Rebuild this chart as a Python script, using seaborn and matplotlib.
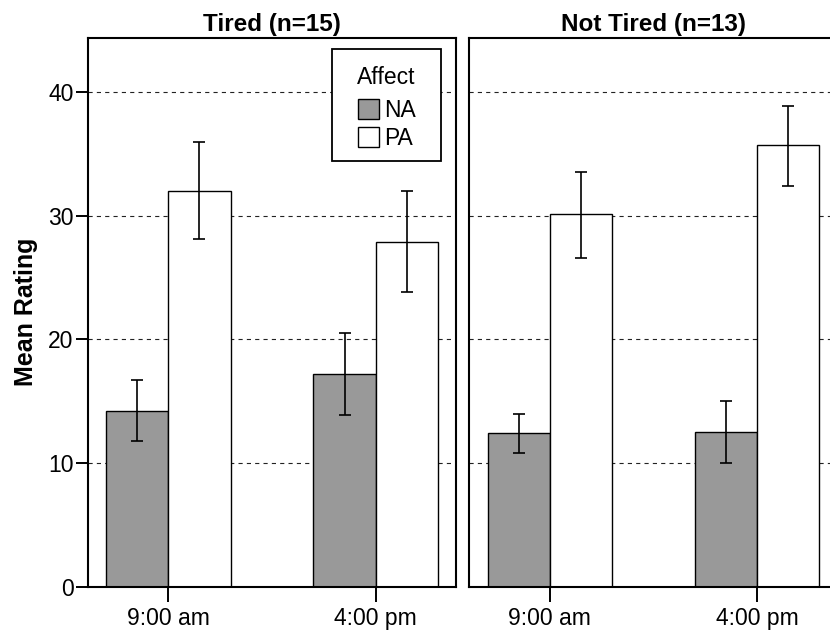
import numpy as np
import pandas as pd
import matplotlib
matplotlib.use("Agg")
import matplotlib.pyplot as plt
from matplotlib.container import BarContainer
from matplotlib.patches import Rectangle
import seaborn as sns

# dados
times = ["9:00 am", "4:00 pm"]
affects = ["NA", "PA"]
panels = ["Tired (n=15)", "Not Tired (n=13)"]

# medias (NA 9h, NA 16h, PA 9h, PA 16h)
tired_mean = [14.2, 17.2, 32.0, 27.9]
tired_low = [11.8, 13.9, 28.1, 23.8]
tired_high = [16.7, 20.5, 36.0, 32.0]

nottired_mean = [12.4, 12.5, 30.1, 35.7]
nottired_low = [10.8, 10.0, 26.6, 32.4]
nottired_high = [14.0, 15.0, 33.5, 38.9]

cores = {"NA": "#999999", "PA": "white"}

sns.set_theme(style="white")
plt.rcParams["font.family"] = ["Liberation Sans", "DejaVu Sans"]
plt.rcParams["lines.scale_dashes"] = False
plt.rcParams["text.color"] = "black"
plt.rcParams["axes.labelcolor"] = "black"
plt.rcParams["axes.titlecolor"] = "black"

fig = plt.figure(figsize=(8.3, 6.32), dpi=100)
ax1 = fig.add_axes([0.1057, 0.0717, 0.4441, 0.8687])
ax2 = fig.add_axes([0.5654, 0.0717, 0.4441, 0.8687], sharey=ax1)

dados = [
    (ax1, tired_mean, tired_low, tired_high),
    (ax2, nottired_mean, nottired_low, nottired_high),
]

for i, (ax, media, baixo, alto) in enumerate(dados):
    df = pd.DataFrame({
        "Time": [t for a in affects for t in times],
        "Affect": [a for a in affects for t in times],
        "Rating": media,
    })
    sns.barplot(data=df, x="Time", y="Rating", hue="Affect", order=times,
                hue_order=affects, palette=cores, edgecolor="black",
                linewidth=1.0, width=0.6, gap=0, errorbar=None, ax=ax,
                legend=(i == 0), zorder=2)

    # barras de erro a partir das barras desenhadas
    barras = [c for c in ax.containers if isinstance(c, BarContainer)]
    k = 0
    for cont in barras:
        for p in cont.patches:
            cx = p.get_x() + p.get_width() / 2
            m = media[k]
            ax.errorbar(cx, m, yerr=[[m - baixo[k]], [alto[k] - m]],
                        fmt="none", ecolor="black", elinewidth=1.2,
                        capsize=4.3, capthick=1.2, zorder=3)
            k += 1

    ax.set_xlim(-0.389, 1.389)
    ax.set_ylim(0, 44.4)
    ax.set_yticks([0, 10, 20, 30, 40])
    ax.yaxis.grid(True, color="#222222", linestyle=(0, (3, 3)), linewidth=0.8)
    ax.xaxis.grid(False)
    ax.set_axisbelow(True)
    for s in ax.spines.values():
        s.set_visible(True)
        s.set_color("black")
        s.set_linewidth(1.5)
    ax.set_title(panels[i], fontsize=17.5, fontweight="bold", pad=5)
    ax.set_xlabel("")
    ax.tick_params(axis="x", bottom=True, length=11, width=1.4, color="black",
                   labelsize=16.5, pad=3.5, labelcolor="black")
    ax.tick_params(axis="y", left=True, length=8.6, width=1.4, color="black",
                   labelsize=16.5, pad=1.5, labelcolor="black")

ax1.set_ylabel("Mean Rating", fontsize=18, fontweight="bold")
ax1.yaxis.set_label_coords(-0.135, 0.5)
ax2.set_ylabel("")
ax2.tick_params(axis="y", left=False, labelleft=False)

# caixa da legenda (moldura desenhada a parte, como no original)
caixa = Rectangle((0.6628, 0.7754), 0.2957, 0.2036, transform=ax1.transAxes,
                  facecolor="white", edgecolor="black", linewidth=1.3,
                  zorder=4)
ax1.add_patch(caixa)

h, l = ax1.get_legend_handles_labels()
leg = ax1.legend(h, l, title="Affect", loc="center",
                 bbox_to_anchor=(0.8107, 0.872), fontsize=16.5,
                 title_fontsize=16.5, handlelength=0.95, handleheight=0.95,
                 handletextpad=0.2, labelspacing=0.2, borderpad=0,
                 borderaxespad=0, frameon=False, labelcolor="black")
leg.get_title().set_color("black")
leg._legend_box.sep = 7
leg.set_zorder(5)

fig.savefig("out.png", dpi=100)
